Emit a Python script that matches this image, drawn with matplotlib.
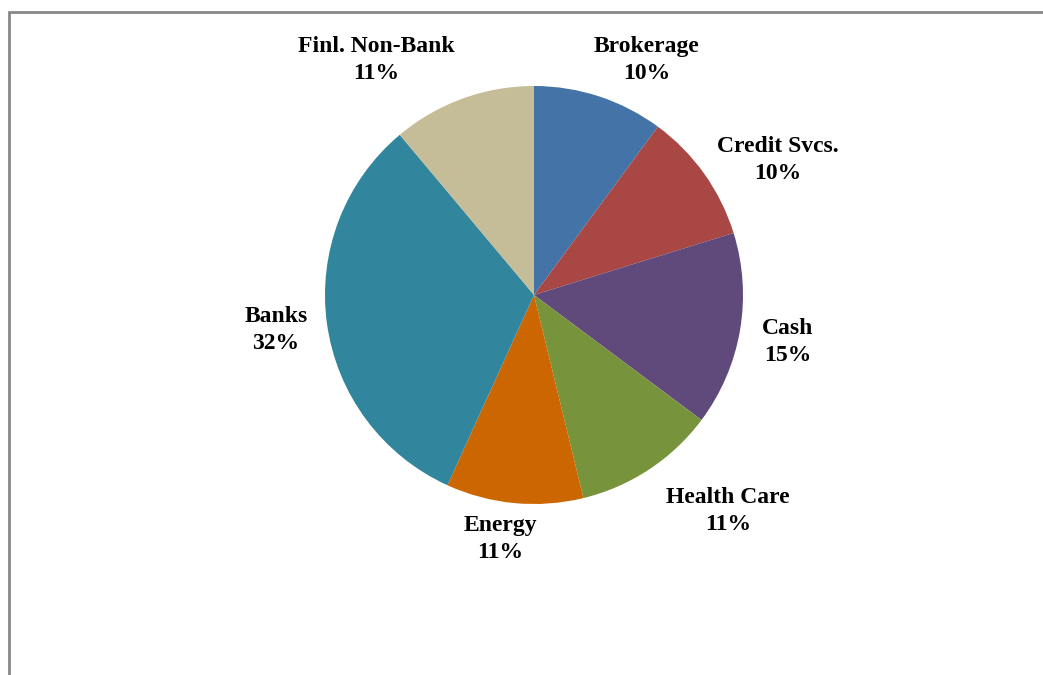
import matplotlib.pyplot as plt
import matplotlib.patches as mpatches

# sector weights, clockwise from 12 o'clock
labels = ['Brokerage', 'Credit Svcs.', 'Cash', 'Health Care', 'Energy', 'Banks', 'Finl. Non-Bank']
values = [10.1, 10.1, 15.0, 11.0, 10.6, 32.1, 11.1]
pct_text = ['10%', '10%', '15%', '11%', '11%', '32%', '11%']
colors = ['#4473A8', '#A84744', '#604A7B', '#77933C', '#CC6600', '#31859C', '#C4BD97']

# label positions (pixel-ish data coords, y up)
label_pos = [(647, 615), (778, 515), (788, 333), (728, 164), (500, 136), (276, 345), (376, 615)]

W, H = 1043, 675
fig = plt.figure(figsize=(W / 100, H / 100), dpi=100)
ax = fig.add_axes([0, 0, 1, 1])

ax.pie(values, colors=colors, startangle=90, counterclock=False,
       center=(534, H - 295), radius=209,
       wedgeprops=dict(linewidth=0), frame=True)
ax.set_xlim(0, W)
ax.set_ylim(0, H)
ax.set_aspect('equal')
ax.axis('off')

for lab, pct, (x, y) in zip(labels, pct_text, label_pos):
    ax.text(x, y, f'{lab}\n{pct}', ha='center', va='center',
            fontsize=17, fontweight='bold', family='Liberation Serif',
            linespacing=1.32, color='black')

# outer chart border (runs off right and bottom edges)
fig.patches.append(mpatches.Rectangle((9 / W, -0.05), 1.05, 1.05 - 12 / H,
                                      transform=fig.transFigure, fill=False,
                                      edgecolor='#878787', linewidth=2))

plt.savefig('out.png', dpi=100)
